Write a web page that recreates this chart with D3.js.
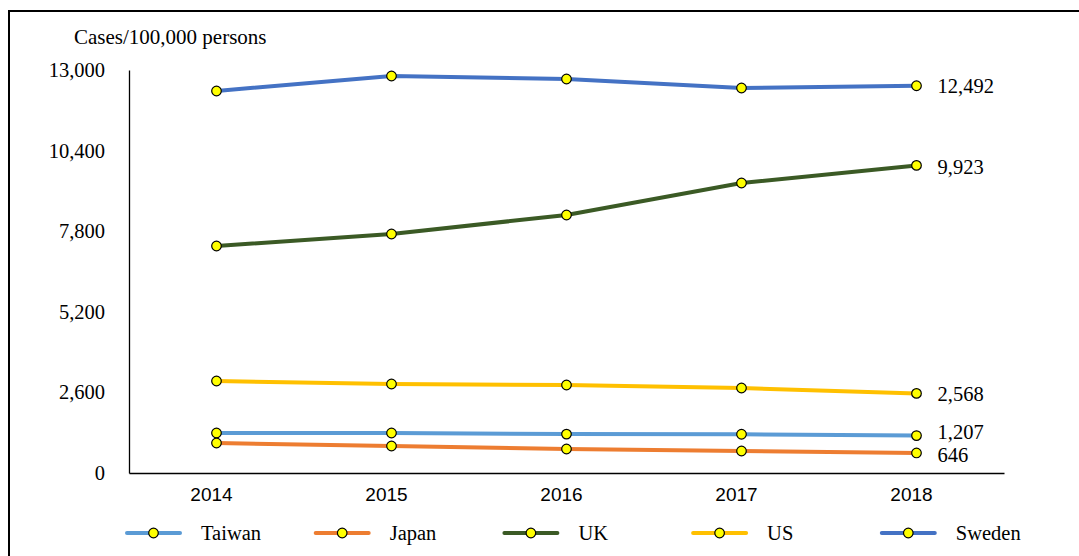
<!DOCTYPE html>
<html>
<head>
<meta charset="utf-8">
<script src="https://cdn.jsdelivr.net/npm/d3@7"></script>
<style>
  html, body { margin: 0; padding: 0; background: #fff; }
  svg { display: block; }
</style>
</head>
<body>
<svg id="chart" width="1079" height="556"></svg>
<script>
// Incidence per 100,000 persons, 2014–2018
const years = ["2014", "2015", "2016", "2017", "2018"];
const taiwan = [1290, 1290, 1255, 1250, 1207];
const japan  = [968, 871, 774, 710, 646];
const uk     = [7323, 7710, 8323, 9355, 9923];
const us     = [2968, 2871, 2839, 2742, 2568];
const sweden = [12323, 12806, 12710, 12419, 12492];
const yTicks = [0, 2600, 5200, 7800, 10400, 13000];

const seriesNames = ["Taiwan", "Japan", "UK", "US", "Sweden"];
const seriesValues = [taiwan, japan, uk, us, sweden];
const seriesColors = ["#5b9bd5", "#ed7d31", "#3b5a25", "#ffc000", "#4472c4"];

const svg = d3.select("#chart");
const serif = "'Liberation Serif', 'Times New Roman', serif";
const sans = "'Liberation Sans', Arial, sans-serif";

// outer frame (top and left edges)
svg.append("path")
  .attr("d", "M9,556 V11 H1079")
  .attr("fill", "none")
  .attr("stroke", "#000")
  .attr("stroke-width", 2);

const plot = { left: 129, right: 1004, top: 70, bottom: 473 };

const x = d3.scaleBand().domain(years).range([plot.left, plot.right]);
const y = d3.scaleLinear().domain([0, 13000]).range([plot.bottom, plot.top]);
const cx = d => x(d) + x.bandwidth() / 2;

// y axis
const yAxis = svg.append("g")
  .attr("transform", `translate(${plot.left},0)`)
  .call(d3.axisLeft(y).tickValues(yTicks).tickSize(0).tickPadding(24)
    .tickFormat(d3.format(",")));
yAxis.select(".domain").attr("stroke", "#000").attr("stroke-width", 1.3);
yAxis.selectAll("text")
  .attr("font-family", serif).attr("font-size", "20.5px").attr("fill", "#000");

// x axis
const xAxis = svg.append("g")
  .attr("transform", `translate(0,${plot.bottom})`)
  .call(d3.axisBottom(x).tickSize(0).tickPadding(15));
xAxis.select(".domain").attr("stroke", "#000").attr("stroke-width", 1.3);
xAxis.selectAll("text")
  .attr("dx", -5)
  .attr("font-family", sans).attr("font-size", "19px").attr("fill", "#000");

// y axis title
svg.append("text")
  .attr("x", 74).attr("y", 44)
  .attr("font-family", serif).attr("font-size", "21px").attr("fill", "#000")
  .text("Cases/100,000 persons");

// series lines and markers
const line = d3.line().x((d, i) => cx(years[i])).y(d => y(d));

seriesValues.forEach((vals, si) => {
  const g = svg.append("g");
  g.append("path")
    .datum(vals)
    .attr("d", line)
    .attr("fill", "none")
    .attr("stroke", seriesColors[si])
    .attr("stroke-width", 4)
    .attr("stroke-linecap", "round");
  g.selectAll("circle")
    .data(vals)
    .join("circle")
    .attr("cx", (d, i) => cx(years[i]))
    .attr("cy", d => y(d))
    .attr("r", 4.8)
    .attr("fill", "#ffff00")
    .attr("stroke", "#000")
    .attr("stroke-width", 1.2);
});

// end-of-line value labels
const labelShift = { Taiwan: -4, Japan: 2, UK: 1, US: 0, Sweden: 0 };
seriesValues.forEach((vals, si) => {
  const last = vals[vals.length - 1];
  svg.append("text")
    .attr("x", cx(years[years.length - 1]) + 21)
    .attr("y", y(last) + labelShift[seriesNames[si]])
    .attr("dy", "0.35em")
    .attr("font-family", serif).attr("font-size", "20.5px").attr("fill", "#000")
    .text(d3.format(",")(last));
});

// legend
const legendX0 = 127, legendStep = 188.7, legendY = 533;
seriesNames.forEach((name, si) => {
  const lx = legendX0 + si * legendStep;
  const g = svg.append("g");
  g.append("line")
    .attr("x1", lx).attr("x2", lx + 53)
    .attr("y1", legendY).attr("y2", legendY)
    .attr("stroke", seriesColors[si]).attr("stroke-width", 4)
    .attr("stroke-linecap", "round");
  g.append("circle")
    .attr("cx", lx + 26.5).attr("cy", legendY).attr("r", 4.8)
    .attr("fill", "#ffff00").attr("stroke", "#000").attr("stroke-width", 1.2);
  g.append("text")
    .attr("x", lx + 74).attr("y", legendY)
    .attr("dy", "0.35em")
    .attr("font-family", serif).attr("font-size", "20.5px").attr("fill", "#000")
    .text(name);
});
</script>
</body>
</html>
